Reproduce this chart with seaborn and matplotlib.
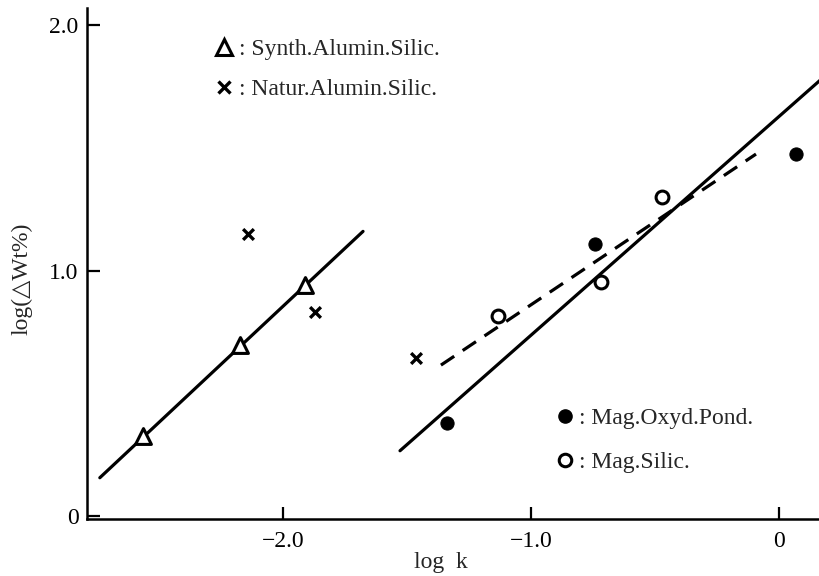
import matplotlib
matplotlib.use("Agg")
import matplotlib.pyplot as plt
import seaborn as sns
from matplotlib.lines import Line2D

# --- data ---
synth_x = [-2.565, -2.173, -1.911]
synth_y = [0.328, 0.697, 0.943]
natur_x = [-2.141, -1.871, -1.464]
natur_y = [1.148, 0.832, 0.643]
oxyd_x = [-1.339, -0.742, 0.069]
oxyd_y = [0.381, 1.107, 1.475]
silic_x = [-1.133, -0.718, -0.472]
silic_y = [0.816, 0.955, 1.300]

fit1_x = [-2.738, -1.677]
fit1_y = [0.156, 1.160]
fit2_x = [-1.528, 0.17]
fit2_y = [0.266, 1.78]
dash_x = [-1.363, -0.093]
dash_y = [0.615, 1.475]

sns.set_style("ticks")
plt.rcParams["font.family"] = ["Liberation Serif", "DejaVu Sans"]

fig = plt.figure(figsize=(8.2, 5.76), dpi=100)
ax = fig.add_axes([0.106, 0.099, 0.894, 0.887])

lw = 2.3
sns.lineplot(x=fit1_x, y=fit1_y, ax=ax, color="black", lw=lw)
sns.lineplot(x=fit2_x, y=fit2_y, ax=ax, color="black", lw=lw)
sns.lineplot(x=dash_x, y=dash_y, ax=ax, color="black", lw=lw, linestyle=(0, (5, 3.2)))

sns.scatterplot(x=synth_x, y=synth_y, ax=ax, marker="^", s=130, facecolor="white",
                edgecolor="black", linewidth=2.2, zorder=5)
sns.scatterplot(x=natur_x, y=natur_y, ax=ax, marker="x", s=60, color="black",
                linewidth=2.4, zorder=5)
sns.scatterplot(x=oxyd_x, y=oxyd_y, ax=ax, marker="o", s=90, color="black",
                edgecolor="black", zorder=5)
sns.scatterplot(x=silic_x, y=silic_y, ax=ax, marker="o", s=85, facecolor="white",
                edgecolor="black", linewidth=2.2, zorder=5)

ax.set_xlim(-2.79, 0.165)
ax.set_ylim(-0.012, 2.07)
ax.set_xticks([-2.0, -1.0, 0])
ax.set_xticklabels(["\u22122.0", "\u22121.0", "0"])
ax.set_yticks([0, 1.0, 2.0])
ax.set_yticklabels(["0", "1.0", "2.0"])
ax.tick_params(direction="in", length=9, width=1.6, labelsize=17, colors="black")
ax.tick_params(axis="x", pad=9)
ax.tick_params(axis="y", pad=6)
for s in ["top", "right"]:
    ax.spines[s].set_visible(False)
for s in ["left", "bottom"]:
    ax.spines[s].set_linewidth(1.8)
    ax.spines[s].set_color("black")

ax.set_xlabel("log  k", fontsize=17)
ax.xaxis.set_label_coords(0.483, -0.064)
ax.set_ylabel("log(\u25b3Wt%)", fontsize=17)
ax.yaxis.set_label_coords(-0.074, 0.47)

fs = 17
h1 = [Line2D([], [], marker="^", ls="", ms=11, mfc="white", mec="black", mew=2.2),
      Line2D([], [], marker="x", ls="", ms=8, mec="black", mew=2.4)]
leg1 = ax.legend(h1, [": Synth.Alumin.Silic.", ": Natur.Alumin.Silic."],
                 loc="upper left", bbox_to_anchor=(0.165, 0.958), frameon=False,
                 fontsize=fs, handlelength=0.6, handletextpad=0.3, labelspacing=0.78,
                 borderaxespad=0)
ax.add_artist(leg1)
h2 = [Line2D([], [], marker="o", ls="", ms=9.5, mfc="black", mec="black"),
      Line2D([], [], marker="o", ls="", ms=9, mfc="white", mec="black", mew=2.2)]
ax.legend(h2, [": Mag.Oxyd.Pond.", ": Mag.Silic."],
          loc="upper left", bbox_to_anchor=(0.63, 0.237), frameon=False,
          fontsize=fs, handlelength=0.6, handletextpad=0.3, labelspacing=0.95,
          borderaxespad=0)

fig.savefig("out.png", dpi=100)
